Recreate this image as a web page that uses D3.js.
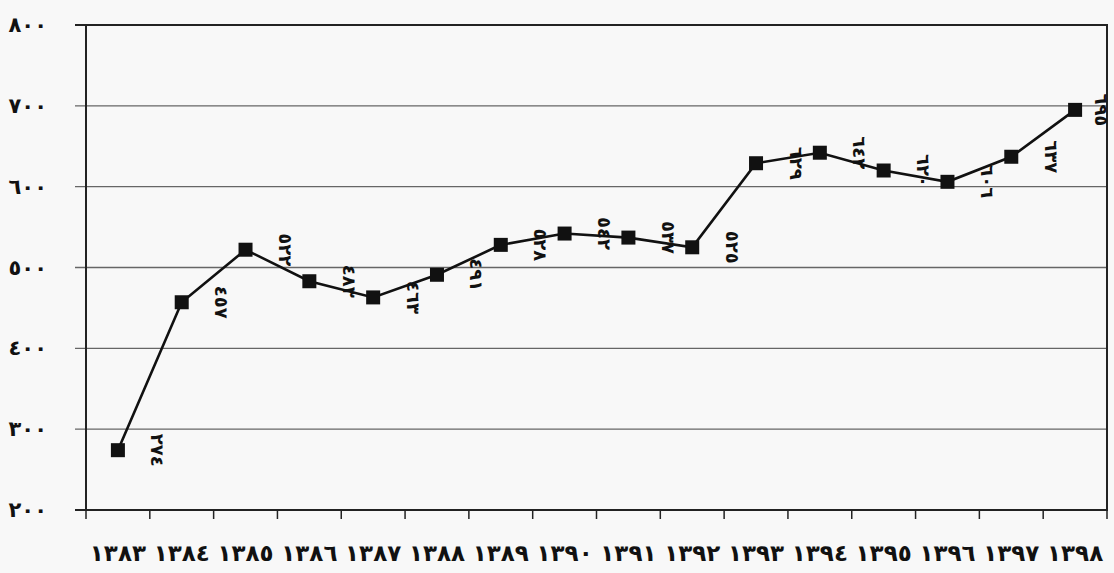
<!DOCTYPE html>
<html>
<head>
<meta charset="utf-8">
<script src="https://cdn.jsdelivr.net/npm/d3@7"></script>
<style>
  body { margin: 0; background: #f8f8f8; }
  text { font-family: "DejaVu Sans", sans-serif; }
</style>
</head>
<body>
<div id="app"></div>
<script>
const years = ['1383','1384','1385','1386','1387','1388','1389','1390','1391','1392','1393','1394','1395','1396','1397','1398']
const values = [274, 457, 522, 483, 463, 491, 528, 542, 537, 525, 629, 642, 620, 606, 637, 695]
const yTicks = [200, 300, 400, 500, 600, 700, 800]

const width = 1114
const height = 573
const m = { left: 86, right: 7, top: 25, bottom: 63 }

// arabic-indic digits
const ar = s => String(s).replace(/\d/g, d => '٠١٢٣٤٥٦٧٨٩'[d])

const svg = d3.select('#app')
  .append('svg')
  .attr('width', width)
  .attr('height', height)

const x = d3.scaleBand()
  .domain(years)
  .range([m.left, width - m.right])

const y = d3.scaleLinear()
  .domain([200, 800])
  .range([height - m.bottom, m.top])

// gridlines
svg.append('g')
  .selectAll('line')
  .data(yTicks)
  .join('line')
  .attr('x1', m.left - 11)
  .attr('x2', width - m.right)
  .attr('y1', d => y(d))
  .attr('y2', d => y(d))
  .attr('stroke', d => d === 800 || d === 200 ? '#222' : '#666')
  .attr('stroke-width', d => d === 800 || d === 200 ? 2 : 1.3)

// frame
svg.append('rect')
  .attr('x', m.left)
  .attr('y', m.top)
  .attr('width', width - m.left - m.right)
  .attr('height', height - m.top - m.bottom)
  .attr('fill', 'none')
  .attr('stroke', '#222')
  .attr('stroke-width', 2)

svg.append('g')
  .selectAll('text')
  .data(yTicks)
  .join('text')
  .attr('x', 47)
  .attr('y', d => y(d))
  .attr('text-anchor', 'end')
  .attr('dominant-baseline', 'central')
  .attr('font-size', 21)
  .attr('font-weight', 'bold')
  .attr('fill', '#111')
  .text(d => ar(d))

// x axis ticks and labels
const xAxis = svg.append('g')
  .attr('transform', `translate(0,${height - m.bottom})`)
  .call(d3.axisBottom(x).tickSize(0).tickFormat(''))
xAxis.select('.domain').remove()

xAxis.selectAll('.bound')
  .data(years.concat(['end']))
  .join('line')
  .attr('class', 'bound')
  .attr('x1', (d, i) => m.left + i * x.step())
  .attr('x2', (d, i) => m.left + i * x.step())
  .attr('y1', 0)
  .attr('y2', 9)
  .attr('stroke', '#222')
  .attr('stroke-width', 1.5)

svg.append('g')
  .selectAll('text')
  .data(years)
  .join('text')
  .attr('x', d => x(d) + x.bandwidth() / 2)
  .attr('y', 553)
  .attr('text-anchor', 'middle')
  .attr('dominant-baseline', 'central')
  .attr('font-size', 23)
  .attr('font-weight', 'bold')
  .attr('fill', '#111')
  .text(d => ar(d))

const cx = d => x(d) + x.bandwidth() / 2

// line
svg.append('path')
  .datum(values)
  .attr('fill', 'none')
  .attr('stroke', '#111')
  .attr('stroke-width', 2.6)
  .attr('d', d3.line().x((d, i) => cx(years[i])).y(d => y(d)))

svg.append('g')
  .selectAll('rect')
  .data(values)
  .join('rect')
  .attr('x', (d, i) => cx(years[i]) - 7)
  .attr('y', d => y(d) - 7)
  .attr('width', 14)
  .attr('height', 14)
  .attr('fill', '#111')

// data labels, rotated
svg.append('g')
  .selectAll('text')
  .data(values)
  .join('text')
  .attr('transform', (d, i) => `translate(${Math.min(cx(years[i]) + 40, width - 13)},${y(d)}) rotate(90)`)
  .attr('text-anchor', 'middle')
  .attr('dominant-baseline', 'central')
  .attr('font-size', 18)
  .attr('font-weight', 'bold')
  .attr('fill', '#111')
  .text(d => ar(d))
</script>
</body>
</html>
